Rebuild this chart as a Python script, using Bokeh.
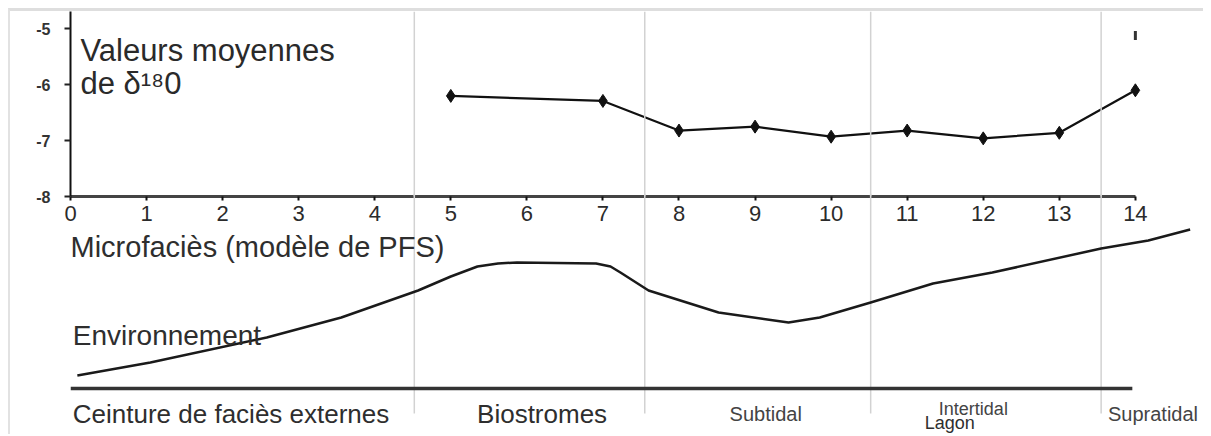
from bokeh.plotting import figure
from bokeh.models import Range1d, FixedTicker, Span, Label
from bokeh.layouts import column
from bokeh.embed import file_html
from bokeh.resources import INLINE

# ---- data ----
facies = [5, 7, 8, 9, 10, 11, 12, 13, 14]
d18o = [-6.20, -6.29, -6.82, -6.75, -6.93, -6.82, -6.96, -6.86, -6.10]
x_ticks = list(range(0, 15))
y_ticks = [-8, -7, -6, -5]
y_tick_labels = ["-8", "-7", "-6", "-5"]

# schematic environment profile (relative level vs microfacies)
env_x = [0.09, 1.05, 2.58, 3.56, 4.57, 5.0, 5.35, 5.62, 5.87, 6.91, 7.10, 7.23,
         7.60, 8.52, 9.44, 9.85, 10.52, 11.34, 12.12, 13.55, 14.17, 14.72]
env_level = [1.3, 2.6, 5.1, 7.1, 9.8, 11.2, 12.2, 12.5, 12.6, 12.5, 12.2, 11.6,
             9.8, 7.6, 6.6, 7.1, 8.6, 10.5, 11.6, 14.0, 14.8, 15.9]

belt_edges = [4.52, 7.55, 10.52, 13.55]
belt_labels = ["Ceinture de faciès externes", "Biostromes", "Subtidal",
               "Intertidal", "Supratidal"]

FONT = "Liberation Sans"
SEP_COLOR = "#d2d2d2"
X_RANGE = (0, 14.922)

# ---- top chart ----
p1 = figure(frame_width=1133, frame_height=182,
            x_range=Range1d(*X_RANGE), y_range=Range1d(-8, -4.69),
            output_backend="svg", toolbar_location=None,
            min_border_left=60, min_border_right=0, min_border_top=0,
            min_border_bottom=33)
p1.grid.visible = False
p1.outline_line_color = None
p1.background_fill_color = "white"
p1.border_fill_color = "white"
p1.styles = {"margin-left": "8px", "margin-top": "8px",
             "border-top": "3px solid #dedede",
             "border-left": "2px solid #e2e2e2"}

for xe in belt_edges:
    p1.add_layout(Span(location=xe, dimension="height", line_color=SEP_COLOR,
                       line_width=1.5))

xa = p1.xaxis[0]
xa.ticker = FixedTicker(ticks=x_ticks)
xa.bounds = (0, 14)
xa.axis_line_color = "#444444"
xa.axis_line_width = 3
xa.major_tick_in = 0
xa.major_tick_out = 4
xa.major_tick_line_width = 2
xa.major_tick_line_color = "#111111"
xa.minor_tick_line_color = None
xa.major_label_text_font = FONT
xa.major_label_text_font_size = "22px"
xa.major_label_text_color = "#2b2b2b"
xa.major_label_standoff = 5

ya = p1.yaxis[0]
ya.ticker = FixedTicker(ticks=y_ticks)
ya.major_label_overrides = {t: s for t, s in zip(y_ticks, y_tick_labels)}
ya.axis_line_color = "#111111"
ya.axis_line_width = 2
ya.major_tick_in = 0
ya.major_tick_out = 6
ya.major_tick_line_width = 2
ya.major_tick_line_color = "#222222"
ya.minor_tick_line_color = None
ya.major_label_text_font = FONT
ya.major_label_text_font_size = "16px"
ya.major_label_text_font_style = "bold"
ya.major_label_text_color = "#333333"
ya.major_label_standoff = 14

p1.line(facies, d18o, line_color="#111111", line_width=2.2)
p1.scatter(facies, d18o, marker="diamond", size=13, color="#111111")
# small residual mark above the last point
p1.segment(x0=[facies[-1]], y0=[-5.04], x1=[facies[-1]], y1=[-5.20],
           line_color="#333333", line_width=3)

p1.add_layout(Label(x=0.13, y=-5.38, text="Valeurs moyennes", text_font=FONT,
                    text_font_size="31px", text_color="#2a2a2a",
                    text_baseline="alphabetic"))
p1.add_layout(Label(x=0.13, y=-5.98, text="de δ¹⁸0", text_font=FONT,
                    text_font_size="31px", text_color="#2a2a2a",
                    text_baseline="alphabetic"))

# ---- lower schematic ----
p2 = figure(frame_width=1133, frame_height=241,
            x_range=Range1d(*X_RANGE), y_range=Range1d(-4.6, 19.5),
            output_backend="svg", toolbar_location=None,
            x_axis_location=None, y_axis_location=None,
            min_border_left=60, min_border_right=0,
            min_border_top=0, min_border_bottom=0)
p2.grid.visible = False
p2.outline_line_color = None
p2.background_fill_color = None
p2.border_fill_color = None
p2.styles = {"margin-top": "-33px", "margin-left": "8px",
             "border-left": "2px solid #e2e2e2"}

p2.segment(x0=belt_edges, y0=[19.5] * len(belt_edges), x1=belt_edges,
           y1=[-2.5] * len(belt_edges), line_color=SEP_COLOR, line_width=1.5)
p2.segment(x0=[min(x_ticks)], y0=[0], x1=[max(x_ticks) - 0.04], y1=[0],
           line_color="#333333", line_width=3.5)
p2.line(env_x, env_level, line_color="#1a1a1a", line_width=2.5,
        line_join="round")

def lab(x, y, text, size, align="left", color="#2e2e2e"):
    p2.add_layout(Label(x=x, y=y, text=text, text_font=FONT,
                        text_font_size=size, text_color=color,
                        text_align=align, text_baseline="alphabetic"))

lab(0.0, 14.2, "Microfaciès (modèle de PFS)", "29px")
lab(0.03, 5.3, "Environnement", "28px")
lab(0.03, -2.5, belt_labels[0], "26px")
lab(6.2, -2.5, belt_labels[1], "26px", "center")
lab(9.14, -2.5, belt_labels[2], "20px", "center", "#444444")
lab(11.87, -2.0, belt_labels[3], "18px", "center", "#444444")
lab(13.64, -2.5, belt_labels[4], "20px", "left", "#444444")
lab(11.56, -3.4, "Lagon", "18px", "center")

layout = column(p1, p2)

open("out.html", "w").write(file_html(layout, INLINE))
